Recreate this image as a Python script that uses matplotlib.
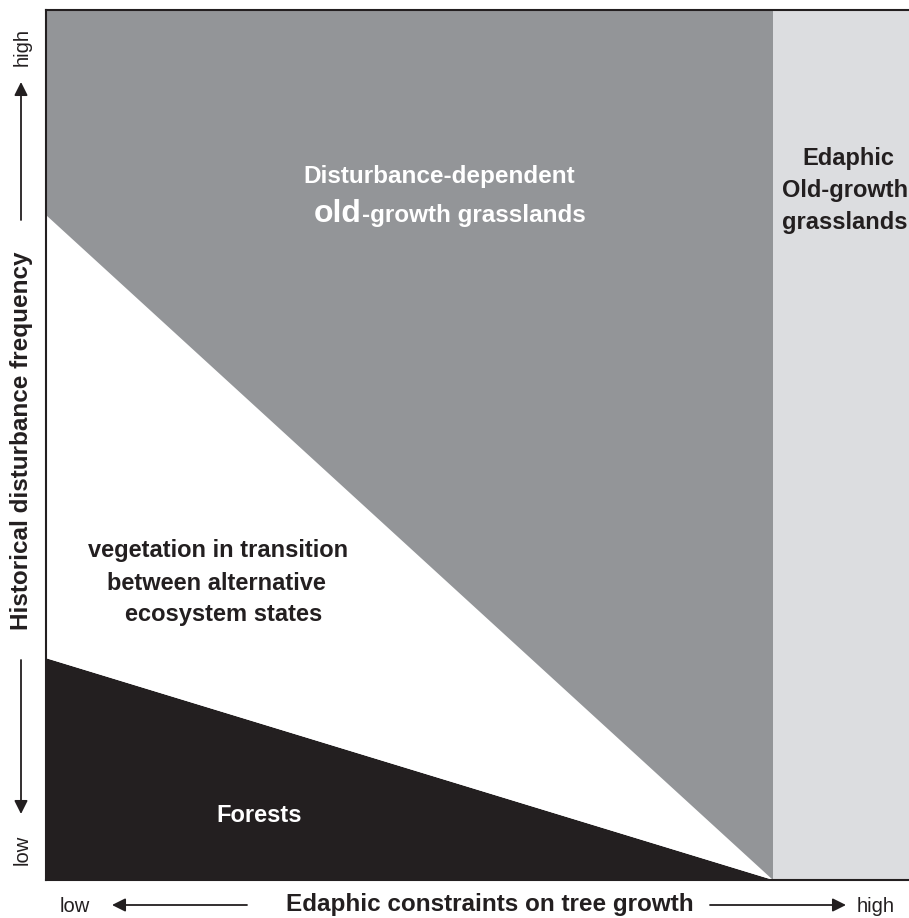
import matplotlib
matplotlib.use("Agg")
import matplotlib.pyplot as plt
from matplotlib.patches import Polygon

plt.rcParams['font.family'] = ['Liberation Sans', 'DejaVu Sans']

# conceptual diagram: boundaries in axes units (0..1)
threshold_x = 0.818          # edaphic threshold on tree growth
forest_left_y = 0.255        # forest/transition boundary at low edaphic constraint
transition_left_y = 0.764    # transition/grassland boundary at low edaphic constraint

regions = {
    'forest': [(0, 0), (0, forest_left_y), (threshold_x, 0)],
    'transition': [(0, forest_left_y), (0, transition_left_y), (threshold_x, 0)],
    'grassland': [(0, transition_left_y), (0, 1), (threshold_x, 1), (threshold_x, 0)],
    'edaphic': [(threshold_x, 0), (threshold_x, 1), (1, 1), (1, 0)],
}
colors = {'forest': '#231f20', 'transition': '#ffffff',
          'grassland': '#939598', 'edaphic': '#dcdde0'}

W, H = 909, 918
fig = plt.figure(figsize=(W / 100, H / 100), dpi=100)

def px(x, y):
    return (x / W, 1 - y / H)

ax = fig.add_axes([46 / W, 1 - 880 / H, (935 - 46) / W, 870 / H])
for k, pts in regions.items():
    ax.add_patch(Polygon(pts, closed=True, facecolor=colors[k], edgecolor='none'))
ax.set_xlim(0, 1)
ax.set_ylim(0, 1)
ax.set_xticks([])
ax.set_yticks([])
for s in ax.spines.values():
    s.set_color('#231f20')
    s.set_linewidth(1.5)

bold = dict(fontsize=17, fontweight='bold')

# region labels
ax.text(*px(303, 177), 'Disturbance-dependent', transform=fig.transFigure,
        color='white', ha='left', va='center', fontsize=17.5, fontweight='bold')
t_old = ax.text(*px(314, 222), 'old', transform=fig.transFigure, color='white',
                ha='left', va='baseline', fontsize=23, fontweight='bold')
ax.annotate('-growth grasslands', xy=(1, 1 - 222 / H), xycoords=(t_old, 'figure fraction'),
            color='white', ha='left', va='baseline', fontsize=17.5, fontweight='bold')

ax.text(*px(848, 158), 'Edaphic', transform=fig.transFigure, color='#231f20',
        ha='center', va='center', **bold)
ax.text(*px(782, 190), 'Old-growth', transform=fig.transFigure, color='#231f20',
        ha='left', va='center', **bold)
ax.text(*px(782, 222), 'grasslands', transform=fig.transFigure, color='#231f20',
        ha='left', va='center', **bold)

ax.text(*px(88, 550), 'vegetation in transition', transform=fig.transFigure,
        color='#231f20', ha='left', va='center', **bold)
ax.text(*px(107, 583), 'between alternative', transform=fig.transFigure,
        color='#231f20', ha='left', va='center', **bold)
ax.text(*px(125, 615), 'ecosystem states', transform=fig.transFigure,
        color='#231f20', ha='left', va='center', **bold)

ax.text(*px(259, 815), 'Forests', transform=fig.transFigure, color='white',
        ha='center', va='center', **bold)

# axis labels
fig.text(*px(490, 905), 'Edaphic constraints on tree growth', ha='center',
         va='center', color='#231f20', fontsize=17.5, fontweight='bold')
fig.text(*px(22, 441), 'Historical disturbance frequency', ha='center',
         va='center', rotation=90, color='#231f20', fontsize=17.5, fontweight='bold')

small = dict(fontsize=14.5, color='#231f20')
fig.text(*px(75, 906), 'low', ha='center', va='center', **small)
fig.text(*px(876, 906), 'high', ha='center', va='center', **small)
fig.text(*px(22, 47), 'high', ha='center', va='center', rotation=90, **small)
fig.text(*px(22, 850), 'low', ha='center', va='center', rotation=90, **small)

arrow = dict(arrowstyle='-|>', color='#231f20', lw=1.3, mutation_scale=20,
             shrinkA=0, shrinkB=0)
for tail, tip in [((247, 905), (112, 905)), ((710, 905), (846, 905)),
                  ((21, 220), (21, 82)), ((21, 660), (21, 814))]:
    fig.add_artist(matplotlib.patches.FancyArrowPatch(
        px(*tail), px(*tip), transform=fig.transFigure, **arrow))

fig.savefig('out.png', dpi=100)
